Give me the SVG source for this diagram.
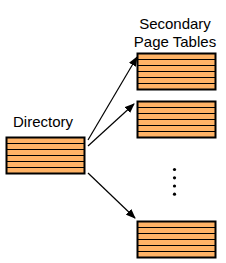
<svg xmlns="http://www.w3.org/2000/svg" width="226" height="263" viewBox="0 0 226 263">
<defs>
<style>
.lbl{font-family:"Liberation Sans",Arial,sans-serif;font-size:15px;fill:#000}
.box{fill:#FFB366;stroke:#000;stroke-width:2}
.row{stroke:#000;stroke-width:1.2}
.conn{stroke:#000;stroke-width:1.2;fill:none;marker-end:url(#ah)}
</style>
<marker id="ah" markerWidth="10" markerHeight="8" refX="9" refY="4" orient="auto" markerUnits="userSpaceOnUse">
<path d="M0,0 L10,4 L0,8 Z" fill="#000"/>
</marker>
<g id="tbl">
<rect class="box" x="0" y="0" width="78" height="36"/>
<line class="row" x1="0" y1="6" x2="78" y2="6"/>
<line class="row" x1="0" y1="12" x2="78" y2="12"/>
<line class="row" x1="0" y1="18" x2="78" y2="18"/>
<line class="row" x1="0" y1="24" x2="78" y2="24"/>
<line class="row" x1="0" y1="30" x2="78" y2="30"/>
</g>
</defs>
<g id="directory">
<text class="lbl" x="43" y="127" text-anchor="middle">Directory</text>
<use href="#tbl" x="6.5" y="137.5"/>
</g>
<g id="secondary-label">
<text class="lbl" x="175" y="29" text-anchor="middle">Secondary</text>
<text class="lbl" x="175" y="47" text-anchor="middle">Page Tables</text>
</g>
<g id="table1"><use href="#tbl" x="137.5" y="53.5"/></g>
<g id="table2"><use href="#tbl" x="137.5" y="101.5"/></g>
<g id="table3"><use href="#tbl" x="137.5" y="221.5"/></g>
<g id="dots">
<circle cx="174.5" cy="169.5" r="1.6"/>
<circle cx="174.5" cy="177.8" r="1.6"/>
<circle cx="174.5" cy="186" r="1.6"/>
<circle cx="174.5" cy="194.2" r="1.6"/>
</g>
<g id="connectors">
<line class="conn" x1="88" y1="140" x2="137" y2="57"/>
<line class="conn" x1="88" y1="146" x2="134" y2="104"/>
<line class="conn" x1="88" y1="173" x2="135" y2="218"/>
</g>
</svg>
